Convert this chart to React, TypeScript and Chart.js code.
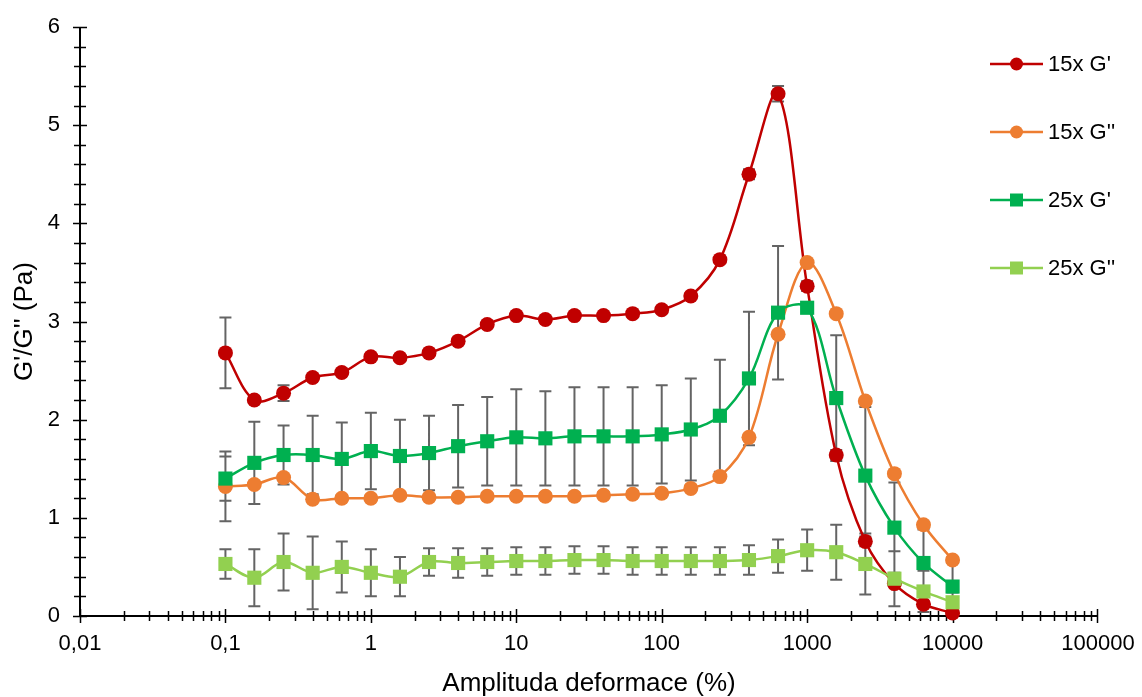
import React, { useEffect, useRef } from 'react';
import { Chart, registerables } from 'chart.js';

Chart.register(...registerables);

// ---- data ----
const strain = [0.1, 0.158, 0.251, 0.398, 0.631, 1, 1.585, 2.512, 3.981, 6.31, 10, 15.85, 25.12, 39.81, 63.1, 100, 158.5, 251.2, 398.1, 631, 1000, 1585, 2512, 3981, 6310, 10000];

const g15Storage = [2.68, 2.2, 2.27, 2.43, 2.48, 2.64, 2.63, 2.68, 2.8, 2.97, 3.06, 3.02, 3.06, 3.06, 3.08, 3.12, 3.26, 3.63, 4.5, 5.32, 3.36, 1.64, 0.76, 0.33, 0.12, 0.03];
const g15StorageErr = [0.36, 0.03, 0.08, 0.03, 0.03, 0.03, 0.03, 0.03, 0.03, 0.03, 0.03, 0.03, 0.03, 0.03, 0.03, 0.03, 0.03, 0.03, 0.05, 0.08, 0.05, 0.05, 0.05, 0.03, 0.03, 0.02];

const g15Loss = [1.32, 1.34, 1.41, 1.19, 1.2, 1.2, 1.23, 1.21, 1.21, 1.22, 1.22, 1.22, 1.22, 1.23, 1.24, 1.25, 1.3, 1.42, 1.82, 2.87, 3.6, 3.08, 2.19, 1.45, 0.93, 0.57];
const g15LossErr = [0.355, 0.03, 0.03, 0.03, 0.03, 0.03, 0.03, 0.03, 0.03, 0.03, 0.03, 0.03, 0.03, 0.03, 0.03, 0.03, 0.03, 0.03, 0.03, 0.03, 0.03, 0.03, 0.03, 0.03, 0.03, 0.03];

const g25Storage = [1.4, 1.56, 1.64, 1.64, 1.6, 1.68, 1.63, 1.66, 1.73, 1.78, 1.82, 1.81, 1.83, 1.83, 1.83, 1.85, 1.9, 2.04, 2.42, 3.09, 3.14, 2.22, 1.43, 0.9, 0.54, 0.3];
const g25StorageErr = [0.225, 0.42, 0.3, 0.4, 0.37, 0.39, 0.37, 0.38, 0.42, 0.45, 0.49, 0.48, 0.5, 0.5, 0.5, 0.5, 0.52, 0.57, 0.68, 0.68, 0.05, 0.64, 0.7, 0.46, 0.34, 0.25];

const g25Loss = [0.53, 0.39, 0.55, 0.44, 0.5, 0.44, 0.4, 0.55, 0.54, 0.55, 0.56, 0.56, 0.57, 0.57, 0.56, 0.56, 0.56, 0.56, 0.57, 0.61, 0.67, 0.65, 0.53, 0.38, 0.25, 0.14];
const g25LossErr = [0.15, 0.29, 0.29, 0.37, 0.26, 0.24, 0.2, 0.14, 0.15, 0.14, 0.14, 0.14, 0.14, 0.14, 0.14, 0.14, 0.14, 0.14, 0.15, 0.17, 0.21, 0.28, 0.31, 0.28, 0.21, 0.1];

const seriesNames = ["15x G'", "15x G''", "25x G'", "25x G''"];
const seriesColors = ['#C00000', '#ED7D31', '#00B050', '#92D050'];
const seriesMarkers = ['circle', 'circle', 'rect', 'rect'];

const xTickValues = [0.01, 0.1, 1, 10, 100, 1000, 10000, 100000];
const xTickLabels = ['0,01', '0,1', '1', '10', '100', '1000', '10000', '100000'];
const yTickValues = [0, 1, 2, 3, 4, 5, 6];

const xTitle = 'Amplituda deformace (%)';
const yTitle = "G'/G'' (Pa)";

const FONT = "'Liberation Sans', Arial, sans-serif";

const seriesValues = [g15Storage, g15Loss, g25Storage, g25Loss];
const seriesErrors = [g15StorageErr, g15LossErr, g25StorageErr, g25LossErr];

// ---- plugins ----
const axesAndErrorsPlugin = {
  id: 'axesAndErrors',
  beforeDatasetsDraw(chart: any) {
    const { ctx, chartArea, scales } = chart;
    const xs = scales.x;
    const ys = scales.y;
    ctx.save();
    // axis lines
    ctx.strokeStyle = '#000';
    ctx.lineWidth = 2;
    ctx.beginPath();
    ctx.moveTo(chartArea.left, chartArea.bottom);
    ctx.lineTo(chartArea.right, chartArea.bottom);
    ctx.moveTo(chartArea.left, chartArea.top);
    ctx.lineTo(chartArea.left, chartArea.bottom);
    ctx.stroke();
    // x tick marks
    ctx.lineWidth = 1.5;
    ctx.beginPath();
    for (let k = -2; k <= 4; k++) {
      for (let m = 1; m <= 9; m++) {
        const v = m * Math.pow(10, k);
        const px = Math.round(xs.getPixelForValue(v)) + 0.5;
        const len = m === 1 ? 7 : 5;
        ctx.moveTo(px, chartArea.bottom - len);
        ctx.lineTo(px, chartArea.bottom + len);
      }
    }
    {
      const px = Math.round(xs.getPixelForValue(100000)) - 0.5;
      ctx.moveTo(px, chartArea.bottom - 7);
      ctx.lineTo(px, chartArea.bottom + 7);
    }
    // y tick marks
    for (let i = 0; i <= 30; i++) {
      const v = i * 0.2;
      const py = Math.round(ys.getPixelForValue(v)) + 0.5;
      const len = i % 5 === 0 ? 7 : 6;
      ctx.moveTo(chartArea.left - len, py);
      ctx.lineTo(chartArea.left + len, py);
    }
    ctx.stroke();
    // error bars
    ctx.strokeStyle = '#646464';
    ctx.lineWidth = 2;
    ctx.beginPath();
    seriesValues.forEach((vals, si) => {
      const errs = seriesErrors[si];
      vals.forEach((v, j) => {
        const e = errs[j];
        const px = xs.getPixelForValue(strain[j]);
        const yt = ys.getPixelForValue(v + e);
        const yb = ys.getPixelForValue(v - e);
        ctx.moveTo(px, yt);
        ctx.lineTo(px, yb);
        ctx.moveTo(px - 6, yt);
        ctx.lineTo(px + 6, yt);
        ctx.moveTo(px - 6, yb);
        ctx.lineTo(px + 6, yb);
      });
    });
    ctx.stroke();
    ctx.restore();
  },
};

const legendPlugin = {
  id: 'customLegend',
  afterDraw(chart: any) {
    const { ctx } = chart;
    ctx.save();
    const x0 = 990;
    const x1 = 1043;
    const xm = (x0 + x1) / 2;
    seriesNames.forEach((name, i) => {
      const y = 64 + i * 68;
      ctx.strokeStyle = seriesColors[i];
      ctx.fillStyle = seriesColors[i];
      ctx.lineWidth = 2.5;
      ctx.beginPath();
      ctx.moveTo(x0, y);
      ctx.lineTo(x1, y);
      ctx.stroke();
      ctx.beginPath();
      if (seriesMarkers[i] === 'circle') {
        ctx.arc(xm, y, 6.5, 0, Math.PI * 2);
      } else {
        ctx.rect(xm - 6.5, y - 6.5, 13, 13);
      }
      ctx.fill();
      ctx.fillStyle = '#000';
      ctx.font = `22px ${FONT}`;
      ctx.textAlign = 'left';
      ctx.textBaseline = 'middle';
      ctx.fillText(name, 1048, y + 1);
    });
    ctx.restore();
  },
};

export default function App() {
  const canvasRef = useRef<HTMLCanvasElement | null>(null);

  useEffect(() => {
    const canvas = canvasRef.current;
    if (!canvas) return;
    const datasets = seriesNames.map((name, i) => ({
      label: name,
      data: strain.map((x, j) => ({ x, y: seriesValues[i][j] })),
      borderColor: seriesColors[i],
      backgroundColor: seriesColors[i],
      borderWidth: 2.5,
      pointStyle: seriesMarkers[i],
      pointRadius: seriesMarkers[i] === 'circle' ? 7.5 : 10,
      pointBorderWidth: 0,
      pointBackgroundColor: seriesColors[i],
      tension: 0.35,
      clip: false,
      order: 4 - i,
    }));

    const chart = new Chart(canvas, {
      type: 'line',
      data: { datasets } as any,
      options: {
        animation: false,
        responsive: true,
        maintainAspectRatio: false,
        layout: { padding: { top: 27, right: 44, left: 0, bottom: 0 } },
        plugins: {
          legend: { display: false },
          tooltip: { enabled: false },
        },
        scales: {
          x: {
            type: 'logarithmic',
            min: 0.01,
            max: 100000,
            grid: { display: false, drawTicks: false },
            border: { display: false },
            afterBuildTicks: (scale: any) => {
              scale.ticks = xTickValues.map((v) => ({ value: v }));
            },
            afterFit: (scale: any) => {
              scale.height = 81;
              scale.paddingLeft = 0;
              scale.paddingRight = 0;
            },
            ticks: {
              autoSkip: false,
              maxRotation: 0,
              padding: 15,
              color: '#000',
              font: { family: FONT, size: 22 },
              callback: (_v: any, idx: number) => xTickLabels[idx],
            },
            title: {
              display: true,
              text: xTitle,
              color: '#000',
              font: { family: FONT, size: 26, lineHeight: 1 },
              padding: { top: 1, bottom: 0 },
            },
          },
          y: {
            type: 'linear',
            min: 0,
            max: 6,
            grid: { display: false, drawTicks: false },
            border: { display: false },
            afterBuildTicks: (scale: any) => {
              scale.ticks = yTickValues.map((v) => ({ value: v }));
            },
            afterFit: (scale: any) => {
              scale.width = 80;
              scale.paddingTop = 0;
              scale.paddingBottom = 0;
            },
            ticks: {
              padding: 20,
              color: '#000',
              font: { family: FONT, size: 22 },
              callback: (v: any) => String(v),
            },
            title: {
              display: true,
              text: yTitle,
              color: '#000',
              font: { family: FONT, size: 26, lineHeight: 1.2 },
              padding: { top: 9, bottom: 0 },
            },
          },
        },
      } as any,
      plugins: [axesAndErrorsPlugin, legendPlugin],
    });
    return () => chart.destroy();
  }, []);

  return (
    <div style={{ position: 'absolute', left: 0, top: 0, width: 1142, height: 697 }}>
      <canvas ref={canvasRef} />
    </div>
  );
}
